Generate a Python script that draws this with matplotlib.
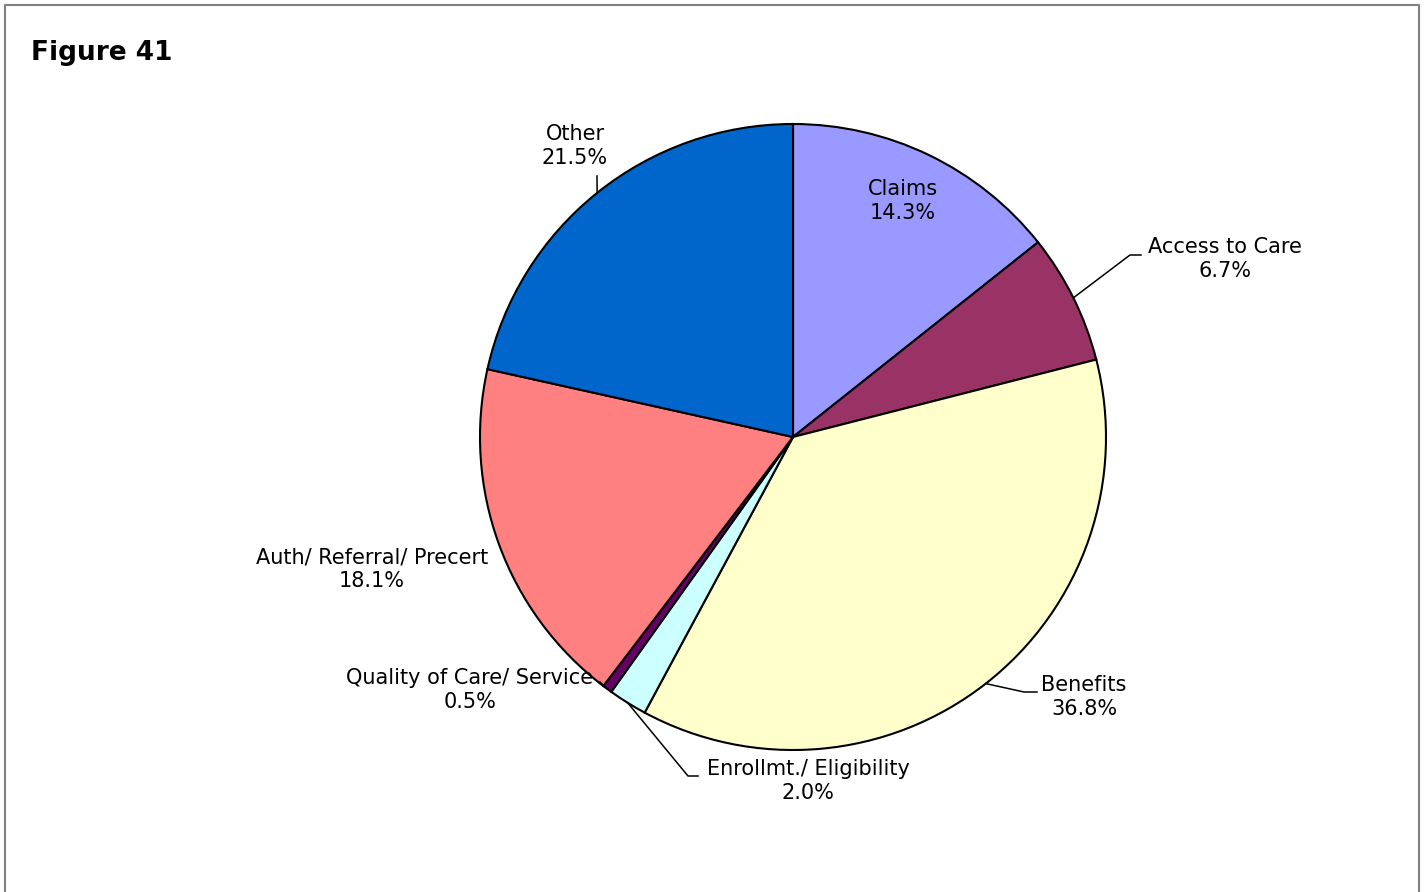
import matplotlib.pyplot as plt
import numpy as np

categories = ['Claims', 'Access to Care', 'Benefits', 'Enrollmt./ Eligibility',
              'Quality of Care/ Service', 'Auth/ Referral/ Precert', 'Other']
shares = [14.3, 6.7, 36.8, 2.0, 0.5, 18.1, 21.5]
colors = ['#9999FF', '#993366', '#FFFFCC', '#CCFFFF', '#660066', '#FF8080', '#0066CC']

W, H = 1424, 892
fig = plt.figure(figsize=(W / 100, H / 100), dpi=100)

# pie: centre (793, 437), radius 313 px
cx, cy, r = 793, 437, 313
ax = fig.add_axes([(cx - r) / W, (H - cy - r) / H, 2 * r / W, 2 * r / H])
wedges, _ = ax.pie(shares, colors=colors, startangle=90, counterclock=False,
                   radius=1, wedgeprops=dict(edgecolor='black', linewidth=1.5))
ax.set_xlim(-1, 1)
ax.set_ylim(-1, 1)
ax.set_aspect('equal')

# overlay in pixel coords (y from top) for frame, title, labels
ov = fig.add_axes([0, 0, 1, 1])
ov.set_zorder(3)
ov.set_xlim(0, W)
ov.set_ylim(H, 0)
ov.axis('off')
ov.plot([5, 5, 1419, 1419], [H + 5, 5, 5, H + 5], color='#808080', lw=1.5)
ov.text(31, 53, 'Figure 41', fontsize=19, fontweight='bold', va='center', ha='left')


def anchor(w):
    a = np.deg2rad((w.theta1 + w.theta2) / 2)
    return cx + r * np.cos(a), cy - r * np.sin(a)


# label text centres and leader elbows (pixel layout)
label_pos = [(903, 201), (1225, 259), (1084, 697), (808, 781),
             (470, 690), (372, 569), (575, 146)]
leaders = {1: [(1130, 255), (1141, 255)],
           2: [(1024, 692), (1037, 692)],
           3: [(688, 776), (698, 776)],
           4: [(600, 682)],
           6: [(597, 176)]}

for i, (cat, val) in enumerate(zip(categories, shares)):
    x, y = label_pos[i]
    ov.text(x, y, f'{cat}\n{val:.1f}%', fontsize=15, ha='center', va='center',
            linespacing=1.2)
    if i in leaders:
        pts = [anchor(wedges[i])] + leaders[i]
        ov.plot([p[0] for p in pts], [p[1] for p in pts], color='black', lw=1.1)

fig.savefig('out.png', dpi=100)
